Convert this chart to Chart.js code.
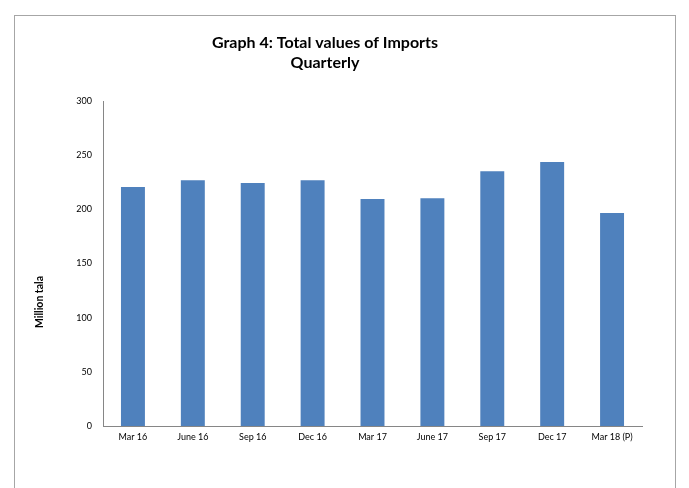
<!DOCTYPE html>
<html>
<head>
<meta charset="utf-8">
<script src="https://cdn.jsdelivr.net/npm/chart.js@4.4.0/dist/chart.umd.min.js"></script>
<style>
  html, body { margin: 0; padding: 0; background: #fff; }
  #wrap { position: relative; width: 689px; height: 488px; }
  #frame { position: absolute; left: 14px; top: 15px; width: 662px; height: 500px;
           border: 1px solid #a6a6a6; box-sizing: border-box; }
  canvas { position: absolute; left: 0; top: 0; }
</style>
</head>
<body>
<div id="wrap">
  <div id="frame"></div>
  <canvas id="importsChart" width="689" height="488"></canvas>
</div>
<script>
// Quarterly import totals
const QUARTERS = ["Mar 16", "June 16", "Sep 16", "Dec 16", "Mar 17", "June 17", "Sep 17", "Dec 17", "Mar 18 (P)"];
const IMPORTS = [220.6, 226.8, 224.3, 226.8, 209.5, 210.2, 235.1, 243.7, 196.6];
const Y_TICKS = [0, 50, 100, 150, 200, 250, 300];

const TITLE_LINES = ["Graph 4: Total values of Imports", "Quarterly"];
const Y_TITLE = "Million tala";

const FONT = "Lato, 'Open Sans', sans-serif";

// Draws the two-line heading and the side label where Excel put them
const textPlugin = {
  id: "textPlugin",
  afterDraw(c) {
    const ctx = c.ctx;
    ctx.save();
    ctx.fillStyle = "#000";
    ctx.textAlign = "center";
    ctx.textBaseline = "middle";
    ctx.font = "bold 16px " + FONT;
    ctx.fillText(TITLE_LINES[0], 325, 43);
    ctx.fillText(TITLE_LINES[1], 325, 63);

    ctx.font = "bold 10.5px " + FONT;
    ctx.translate(40, 302);
    ctx.rotate(-Math.PI / 2);
    ctx.fillText(Y_TITLE, 0, 0);
    ctx.restore();
  }
};

new Chart(document.getElementById("importsChart").getContext("2d"), {
  type: "bar",
  data: {
    labels: QUARTERS,
    datasets: [{
      label: "Imports",
      data: IMPORTS,
      backgroundColor: "#4F81BD",
      borderWidth: 0,
      barPercentage: 0.4,
      categoryPercentage: 1.0
    }]
  },
  options: {
    responsive: false,
    animation: false,
    layout: { padding: { left: 0, top: 101, right: 47, bottom: 32 } },
    plugins: {
      legend: { display: false },
      tooltip: { enabled: false }
    },
    scales: {
      x: {
        grid: { display: false, drawTicks: false },
        border: { color: "#868686", width: 1 },
        ticks: { color: "#000", font: { family: FONT, size: 9 }, padding: 6, maxRotation: 0 },
        afterFit(s) { s.height = 30; }
      },
      y: {
        min: 0,
        max: 300,
        grid: { display: false, drawTicks: false },
        border: { color: "#868686", width: 1 },
        afterBuildTicks(s) { s.ticks = Y_TICKS.map(v => ({ value: v })); },
        ticks: { color: "#000", font: { family: FONT, size: 9 }, padding: 11 },
        afterFit(s) { s.width = 103; }
      }
    }
  },
  plugins: [textPlugin]
});
</script>
</body>
</html>
